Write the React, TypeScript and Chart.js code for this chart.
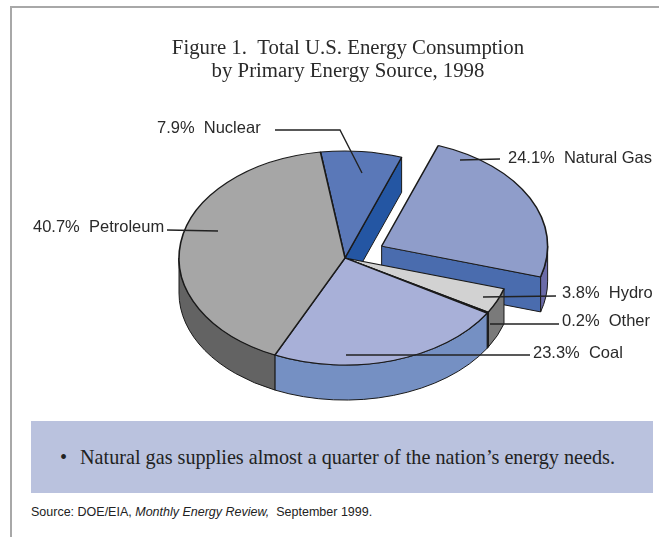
import React, { useEffect, useRef } from "react";
import { Chart, registerables } from "chart.js";

Chart.register(...registerables);

const categories = ["Nuclear", "Natural Gas", "Hydro", "Other", "Coal", "Petroleum"];
const shares = [7.9, 24.1, 3.8, 0.2, 23.3, 40.7];
const titleLines = ["Figure 1.  Total U.S. Energy Consumption", "by Primary Energy Source, 1998"];
const topColors = ["#5a78b8", "#8f9dca", "#d2d2d2", "#111111", "#a8b0d8", "#a6a6a6"];
const rimColors = ["#2456a3", "#6b6ba8", "#7a7a7a", "#111111", "#7590c3", "#636363"];
const faceColors = ["#2456a3", "#4a6cae", "#7a7a7a", "#111111", "#7590c3", "#636363"];

const CX = 345, CY = 258, R = 166, K = 0.645, DEPTH = 35, EXPLODE = 41, EXPLODED = "Natural Gas";
const INK = "#1a1a1a";

// Annotation layout: label anchor (text left, middle y) and leader path per category.
const annotations: Record<string, { x: number; y: number; path: number[][] }> = {
  Nuclear: { x: 157, y: 128, path: [[275, 130], [340, 130], [362, 173]] },
  "Natural Gas": { x: 508, y: 158, path: [[460, 160], [500, 159]] },
  Hydro: { x: 562, y: 293, path: [[483, 297], [556, 296]] },
  Other: { x: 562, y: 321, path: [[490, 324], [559, 324]] },
  Coal: { x: 533, y: 353, path: [[346, 355], [530, 355]] },
  Petroleum: { x: 33, y: 227, path: [[167, 230], [218, 231]] },
};

const pseudo3d = {
  id: "pseudo3d",
  afterDatasetsUpdate(chart: any) {
    const arcs = chart.getDatasetMeta(0).data;
    const i = categories.indexOf(EXPLODED);
    const a = arcs[i];
    const mid = (a.startAngle + a.endAngle) / 2;
    chart.$c = { x: a.x, y: a.y };
    a.x += Math.cos(mid) * EXPLODE;
    a.y += Math.sin(mid) * EXPLODE;
  },
  beforeDatasetsDraw(chart: any) {
    const ctx = chart.ctx as CanvasRenderingContext2D;
    const arcs = chart.getDatasetMeta(0).data;
    const c = chart.$c;
    const ox = (a: any) => CX + (a.x - c.x);
    const oy = (a: any) => CY + K * (a.y - c.y);
    ctx.save();
    ctx.strokeStyle = INK;
    ctx.lineWidth = 1;
    ctx.lineJoin = "round";
    // radial cut faces
    arcs.forEach((a: any, i: number) => {
      const ang = [a.startAngle, a.endAngle];
      ang.forEach((t: number, j: number) => {
        const visible = j === 1 ? Math.cos(t) > 0 : Math.cos(t) < 0;
        if (!visible) return;
        const x = ox(a), y = oy(a);
        const px = x + R * Math.cos(t), py = y + R * K * Math.sin(t);
        ctx.beginPath();
        ctx.moveTo(x, y);
        ctx.lineTo(px, py);
        ctx.lineTo(px, py + DEPTH);
        ctx.lineTo(x, y + DEPTH);
        ctx.closePath();
        ctx.fillStyle = faceColors[i];
        ctx.fill();
        ctx.stroke();
      });
    });
    // outer rims
    arcs.forEach((a: any, i: number) => {
      const t0 = Math.max(a.startAngle, 0);
      const t1 = Math.min(a.endAngle, Math.PI);
      if (t1 <= t0) return;
      const x = ox(a), y = oy(a);
      ctx.beginPath();
      ctx.ellipse(x, y, R, R * K, 0, t0, t1, false);
      ctx.ellipse(x, y + DEPTH, R, R * K, 0, t1, t0, true);
      ctx.closePath();
      ctx.fillStyle = rimColors[i];
      ctx.fill();
      ctx.stroke();
    });
    ctx.translate(CX, CY);
    ctx.scale(1, K);
    ctx.translate(-c.x, -c.y);
  },
  afterDatasetsDraw(chart: any) {
    const ctx = chart.ctx as CanvasRenderingContext2D;
    ctx.restore();
    ctx.save();
    ctx.strokeStyle = "#222";
    ctx.lineWidth = 1.4;
    ctx.fillStyle = "#2a2a2a";
    ctx.font = "16.5px 'Liberation Sans'";
    ctx.textBaseline = "middle";
    categories.forEach((name, i) => {
      const n = annotations[name];
      ctx.beginPath();
      n.path.forEach((p, j) => (j ? ctx.lineTo(p[0], p[1]) : ctx.moveTo(p[0], p[1])));
      ctx.stroke();
      ctx.fillText(`${shares[i].toFixed(1)}%  ${name}`, n.x, n.y);
    });
    ctx.restore();
  },
};

export default function App() {
  const ref = useRef<HTMLCanvasElement>(null);
  useEffect(() => {
    document.body.style.margin = "0";
    const chart = new Chart(ref.current!, {
      type: "pie",
      data: {
        labels: categories,
        datasets: [
          {
            data: shares,
            backgroundColor: topColors,
            borderColor: INK,
            borderWidth: 1.6,
            hoverOffset: 0,
            clip: false,
          } as any,
        ],
      },
      options: {
        animation: false,
        responsive: false,
        events: [],
        rotation: -8.5,
        radius: R,
        layout: { padding: { left: 37, top: 38 } },
        plugins: {
          legend: { display: false },
          tooltip: { enabled: false },
          title: {
            display: true,
            text: titleLines,
            color: "#2a2a2a",
            font: { family: "'Liberation Serif'", size: 20.8, weight: "normal", lineHeight: 1.06 },
            padding: { top: 0, bottom: 0 },
          },
        },
      } as any,
      plugins: [pseudo3d],
    });
    return () => chart.destroy();
  }, []);
  return (
    <div style={{ position: "fixed", left: 0, top: 0, width: 659, height: 537, background: "#fff", overflow: "hidden", filter: "blur(0.35px)" }}>
      <div style={{ position: "absolute", left: 10, top: 6, width: 649, height: 2, background: "#a8a8a8" }} />
      <div style={{ position: "absolute", left: 10, top: 6, width: 2, height: 531, background: "#a8a8a8" }} />
      <div style={{ position: "absolute", left: 31, top: 421, width: 622, height: 72, background: "#bac2de" }} />
      <canvas ref={ref} width={659} height={420} style={{ position: "absolute", left: 0, top: 0, display: "block" }} />
      <div style={{ position: "absolute", left: 60, top: 445, fontFamily: "'Liberation Serif'", fontSize: 20.2, color: "#222", whiteSpace: "pre", lineHeight: "24px" }}>•</div>
      <div style={{ position: "absolute", left: 80, top: 445, fontFamily: "'Liberation Serif'", fontSize: 20.2, color: "#222", whiteSpace: "pre", lineHeight: "24px" }}>
        Natural gas supplies almost a quarter of the nation’s energy needs.
      </div>
      <div style={{ position: "absolute", left: 31, top: 505, fontFamily: "'Liberation Sans'", fontSize: 12.5, color: "#222", whiteSpace: "pre", lineHeight: "14px" }}>
        Source: DOE/EIA, <i>Monthly Energy Review,</i>  September 1999.
      </div>
    </div>
  );
}
